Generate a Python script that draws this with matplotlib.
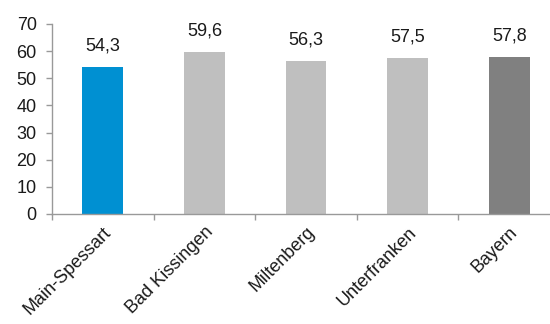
import matplotlib
matplotlib.use("Agg")
import matplotlib.pyplot as plt

regions = ["Main-Spessart", "Bad Kissingen", "Miltenberg", "Unterfranken", "Bayern"]
values = [54.3, 59.6, 56.3, 57.5, 57.8]
colors = ["#0090D2", "#BFBFBF", "#BFBFBF", "#BFBFBF", "#808080"]
yticks = [0, 10, 20, 30, 40, 50, 60, 70]

plt.rcParams["font.family"] = ["Liberation Sans", "DejaVu Sans"]
FS = 13

fig = plt.figure(figsize=(5.5, 3.24), dpi=100)
ax = fig.add_axes([52 / 550, 110 / 324, 508 / 550, 190 / 324])

x = list(range(len(regions)))
ax.bar(x, values, width=0.4, color=colors, zorder=2)

for xi, v in zip(x, values):
    ax.annotate(f"{v:.1f}".replace(".", ","), (xi, v), xytext=(0, 9),
                textcoords="offset points", ha="center", va="bottom",
                fontsize=FS, color="#1a1a1a")

ax.set_xlim(-0.5, len(regions) - 0.5)
ax.set_ylim(0, 70)
ax.set_yticks(yticks)
ax.set_yticklabels([str(t) for t in yticks], fontsize=FS, color="#1a1a1a")

# category boundary ticks on the x axis
ax.set_xticks([i - 0.5 for i in range(len(regions) + 1)])
ax.set_xticklabels([])
ax.set_xticks(x, minor=True)
ax.set_xticklabels(regions, minor=True, rotation=45, ha="right",
                   rotation_mode="anchor", fontsize=FS, color="#1a1a1a")
ax.tick_params(axis="x", which="minor", length=0, pad=7)
ax.tick_params(axis="x", which="major", length=4, color="#999999", width=1)
ax.tick_params(axis="y", length=4, color="#999999", width=1, pad=7)

for s in ["top", "right"]:
    ax.spines[s].set_visible(False)
for s in ["left", "bottom"]:
    ax.spines[s].set_color("#999999")
    ax.spines[s].set_linewidth(1)

fig.savefig("out.png", dpi=100)
